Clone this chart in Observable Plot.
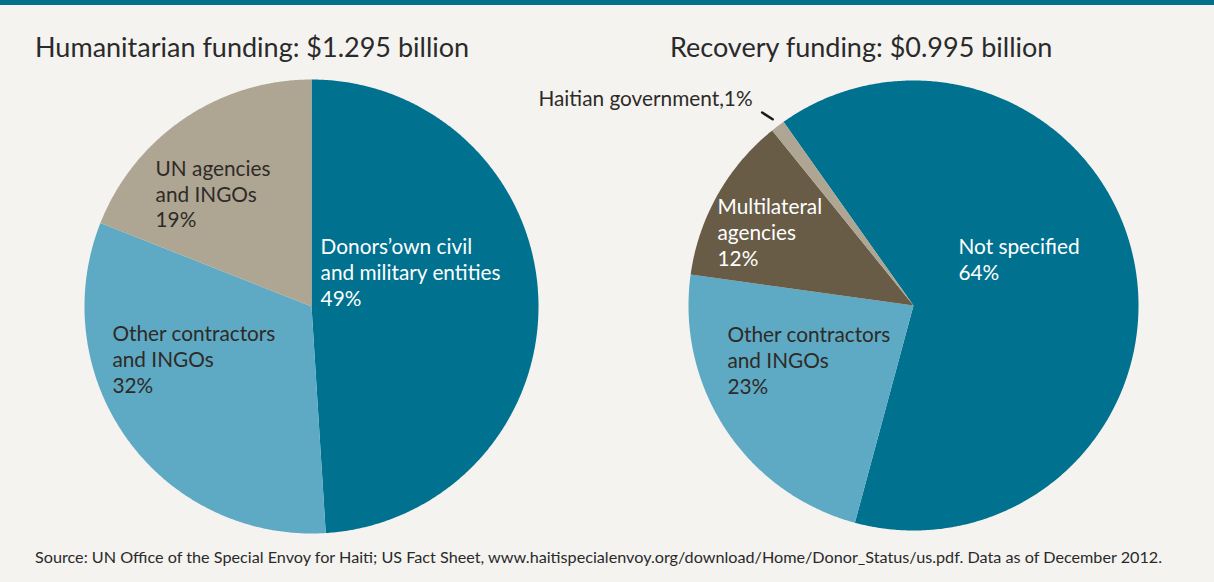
<!DOCTYPE html>
<html>
<head>
<meta charset="utf-8">
<script src="https://cdn.jsdelivr.net/npm/d3@7"></script>
<script src="https://cdn.jsdelivr.net/npm/@observablehq/plot@0.6"></script>
<style>
  html, body { margin: 0; padding: 0; }
  body { width: 1214px; height: 582px; background: #f4f3f0; position: relative; overflow: hidden; font-family: "Lato", sans-serif; }
  .topbar { position: absolute; left: 0; top: 0; width: 1214px; height: 5px; background: #006f8a; }
  .title { position: absolute; top: 30px; font-size: 27px; color: #2a2a2a; white-space: nowrap; font-family: "Lato", sans-serif; }
  .source { position: absolute; left: 35px; top: 547px; font-size: 16.2px; color: #2a2a2a; white-space: nowrap; font-family: "Lato", sans-serif; }
  .chart { position: absolute; top: 70px; }
</style>
</head>
<body>
<div class="topbar"></div>
<div class="title" style="left:35px">Humanitarian funding: $1.295 billion</div>
<div class="title" style="left:670px">Recovery funding: $0.995 billion</div>
<div class="chart" id="left" style="left:0px"></div>
<div class="chart" id="right" style="left:480px"></div>
<div class="source">Source: UN Office of the Special Envoy for Haiti; US Fact Sheet, www.haitispecialenvoy.org/download/Home/Donor_Status/us.pdf. Data as of December 2012.</div>
<script>
// ---- data ----
const humanitarianCategories = ["Donors’own civil and military entities", "Other contractors and INGOs", "UN agencies and INGOs"];
const humanitarianValues = [49, 32, 19];
const humanitarianLabels = ["Donors’own civil\nand military entities\n49%", "Other contractors\nand INGOs\n32%", "UN agencies\nand INGOs\n19%"];

const recoveryCategories = ["Not specified", "Other contractors and INGOs", "Multilateral agencies", "Haitian government"];
const recoveryValues = [64, 23, 12, 1];
const recoveryLabels = ["Not specified\n64%", "Other contractors\nand INGOs\n23%", "Multilateral\nagencies\n12%", "Haitian government,1%"];

// ---- styles / layout (not data) ----
const colorDomain = ["Donors’own civil and military entities", "Not specified", "Other contractors and INGOs", "UN agencies and INGOs", "Haitian government", "Multilateral agencies"];
const colorRange  = ["#00718f", "#00718f", "#5ea9c3", "#aea693", "#aea693", "#695c47"];
const textColor = {"Donors’own civil and military entities": "white", "Not specified": "white", "Multilateral agencies": "white"};
// label anchors (left edge, block middle) in radius units
const humanitarianLabelPos = [[0.040, 0.154], [-0.877, -0.229], [-0.687, 0.498]];
const recoveryLabelPos = [[0.20, 0.209], [-0.827, -0.24], [-0.871, 0.329], [-1.667, 0.924]];

function slices(categories, values, startDeg) {
  const total = d3.sum(values);
  const pts = [];
  const arcs = [];
  let a = startDeg * Math.PI / 180;
  categories.forEach((c, i) => {
    const a0 = a, a1 = a + values[i] / total * 2 * Math.PI;
    arcs.push({category: c, a0, a1, mid: (a0 + a1) / 2});
    pts.push({category: c, x: 0, y: 0});
    const n = Math.max(2, Math.ceil((a1 - a0) / (Math.PI / 360)));
    for (let k = 0; k <= n; k++) {
      const t = a0 + (a1 - a0) * k / n;
      pts.push({category: c, x: Math.sin(t), y: Math.cos(t)});
    }
    pts.push({category: c, x: 0, y: 0});
    a = a1;
  });
  return {pts, arcs};
}

function pie(el, categories, values, labels, labelPos, startDeg, dims, extra) {
  const {pts, arcs} = slices(categories, values, startDeg);
  const labelData = categories.map((c, i) => ({category: c, text: labels[i], x: labelPos[i][0], y: labelPos[i][1]}));
  const marks = [
    Plot.line(pts, {x: "x", y: "y", z: "category", fill: "category", stroke: "none", curve: "linear"}),
    Plot.text(labelData, {x: "x", y: "y", text: "text", textAnchor: "start", lineAnchor: "middle", lineHeight: 1.24,
      fontSize: 20.8, fontFamily: "Lato, sans-serif", fill: d => textColor[d.category] || "#2e2b27"})
  ];
  if (extra) marks.push(...extra(arcs));
  const chart = Plot.plot({
    width: dims.width, height: 470,
    marginLeft: dims.ml, marginRight: dims.mr, marginTop: dims.mt, marginBottom: dims.mb,
    x: {domain: [-1, 1], axis: null},
    y: {domain: [-1, 1], axis: null},
    color: {domain: colorDomain, range: colorRange},
    style: {background: "transparent", overflow: "visible"},
    marks
  });
  document.getElementById(el).appendChild(chart);
}

pie("left", humanitarianCategories, humanitarianValues, humanitarianLabels, humanitarianLabelPos, 0,
  {width: 607, ml: 84, mr: 69, mt: 9, mb: 7});

pie("right", recoveryCategories, recoveryValues, recoveryLabels, recoveryLabelPos, -35.3,
  {width: 734, ml: 208, mr: 76, mt: 10, mb: 10},
  arcs => {
    const h = arcs.find(d => d.category === "Haitian government");
    const tickEnds = [[1.038, h.mid], [1.09, h.mid - Math.PI / 180]];
    const tick = tickEnds.map(([r, t]) => ({x: r * Math.sin(t), y: r * Math.cos(t)}));
    return [Plot.line(tick, {x: "x", y: "y", stroke: "#1a1a1a", strokeWidth: 2.6})];
  });
</script>
</body>
</html>
